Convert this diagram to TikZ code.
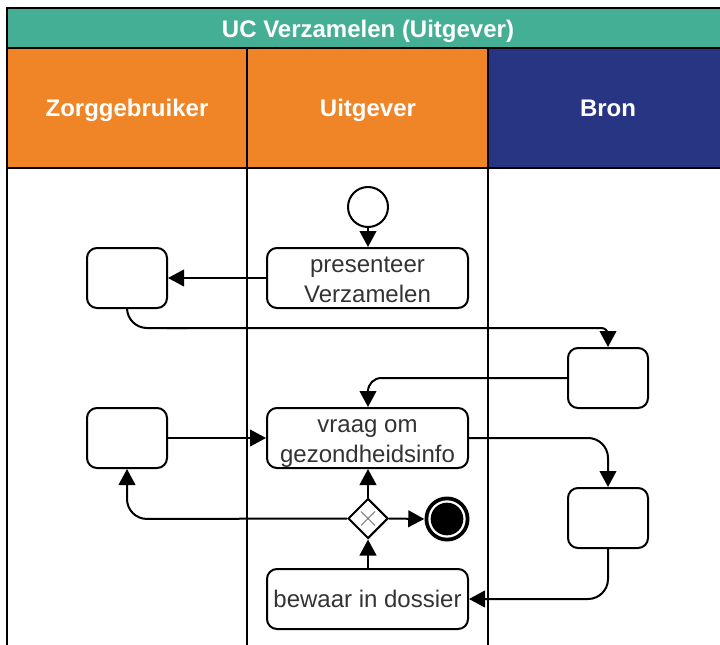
\documentclass[tikz,border=0pt]{standalone}
\usepackage{fontspec}
\setmainfont{Liberation Sans}
\usetikzlibrary{arrows.meta,shapes.geometric}
\definecolor{teal}{HTML}{45AF96}
\definecolor{orangeh}{HTML}{F08527}
\definecolor{navy}{HTML}{283583}
\definecolor{ink}{HTML}{333333}
\newcommand{\lnstrut}{\rule[-3.3pt]{0pt}{21pt}}
\tikzset{
  x=0.75pt,y=-0.75pt,
  ln/.style={line width=1.5pt,draw=black},
  hdr/.style={text=white,font=\bfseries\fontsize{18}{20}\selectfont,anchor=center,inner sep=0,text height=15pt,text depth=1.5pt},
  task/.style={ln,rounded corners=7.5pt,fill=white,minimum height=45pt,inner sep=0,text=ink,align=center,font=\fontsize{18}{21}\selectfont},
  big/.style={task,minimum width=150.75pt},
  small/.style={task,minimum width=60pt},
  flow/.style={ln,rounded corners=15pt,-{Triangle[length=12pt,width=12.5pt]}},
  tight/.style={rounded corners=5pt},
  medium/.style={rounded corners=10pt}
}
\begin{document}
\begin{tikzpicture}
\useasboundingbox (0,0) rectangle (720,645);
\fill[white] (0,0) rectangle (720,645);
% lanes
\draw[ln] (247,168) -- (247,645);
\draw[ln] (488,168) -- (488,645);
\draw[ln] (7,168) -- (7,645);
\path[fill=orangeh,draw=black,line width=1.5pt] (7,48) rectangle (247,168);
\path[fill=orangeh,draw=black,line width=1.5pt] (247,48) rectangle (488,168);
\path[fill=navy,draw=black,line width=1.5pt] (488,48) rectangle (724,168);
\path[fill=teal,draw=black,line width=1.5pt] (7,8) rectangle (724,48);
\node[hdr] (title) at (368,29) {UC Verzamelen (Uitgever)};
\node[hdr] (z) at (127,108) {Zorggebruiker};
\node[hdr] (u) at (368,108) {Uitgever};
\node[hdr] (b) at (608,108) {Bron};
% nodes
\node[ln,circle,fill=white,minimum size=30pt,inner sep=0] (start) at (368,207) {};
\node[big] (pres) at (367.5,278) {\lnstrut presenteer\\\lnstrut Verzamelen};
\node[small] (z1) at (127,278) {};
\node[small] (b1) at (608,378) {};
\node[small] (z2) at (127,438) {};
\node[big] (vraag) at (367.5,438) {\lnstrut vraag om\\\lnstrut gezondheidsinfo};
\node[small] (b2) at (608,518) {};
\node[big] (bew) at (367.5,599) {bewaar in dossier};
\node[ln,diamond,aspect=1,fill=white,minimum size=30pt,inner sep=0] (gw) at (368,518.5) {};
\draw[line width=0.6pt,draw=ink!70] (361,511.5) -- (375,525.5) (375,511.5) -- (361,525.5);
\node[circle,fill=black,minimum size=33.75pt,inner sep=0] (end) at (447,519) {};
\node[circle,fill=white,minimum size=28pt,inner sep=0] (endring) at (447,519) {};
\node[circle,fill=black,minimum size=24.5pt,inner sep=0] (endin) at (447,519) {};
% free bends
\coordinate (c1) at (127,328);
\coordinate (c2) at (608,328);
\coordinate (c3) at (368,378);
\coordinate (c4) at (608,438);
\coordinate (c5) at (127,519);
\coordinate (c6) at (608,599);
% connectors
\draw[flow] (start) -- (pres.north -| start);
\draw[flow] (pres.west) -- (z1.east);
\draw[ln,rounded corners=15pt] (z1.south) -- (c1) -- ++(60,0);
\draw[flow,tight] (c1) ++(40,0) -- (c2) -- (b1.north);
\draw[flow,medium] (b1.west) -- (c3) -- (vraag.north -| c3);
\draw[flow] (z2.east) -- (vraag.west);
\draw[flow] (vraag.east) -- (c4) -- (b2.north);
\draw[flow] (b2.south) -- (c6) -- (bew.east);
\draw[flow] (gw.north) -- (vraag.south -| gw);
\draw[flow] (gw.west) -- (c5) -- (z2.south);
\draw[flow] (gw.east) -- (end.west);
\draw[flow] (bew.north -| gw) -- (gw.south);
\end{tikzpicture}
\end{document}
